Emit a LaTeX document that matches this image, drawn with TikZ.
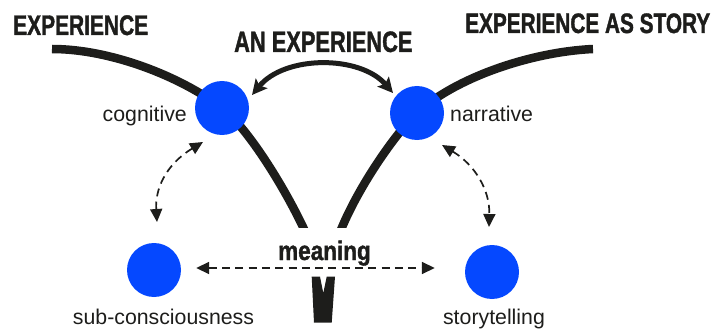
\documentclass[tikz,border=0pt]{standalone}
\usepackage{fontspec}
\setmainfont{Liberation Sans}
\newfontfamily\condA{Liberation Sans}[FakeStretch=0.74,FakeBold=1.3]
\newfontfamily\condB{Liberation Sans}[FakeStretch=0.84,FakeBold=1.3]
\usetikzlibrary{arrows.meta,calc}
\definecolor{ink}{RGB}{29,29,27}
\definecolor{dotblue}{RGB}{5,72,255}
\begin{document}
\begin{tikzpicture}[x=1pt,y=1pt,
  dot/.style={circle,fill=dotblue,minimum size=54pt,inner sep=0pt},
  lbl/.style={text=ink,font=\fontsize{21.3}{22}\selectfont,inner sep=0pt},
  ttl/.style={text=ink,inner sep=0pt},
  thickline/.style={draw=ink,line width=8.5pt},
  dasharrow/.style={draw=ink,line width=1.7pt,dash pattern=on 8pt off 5.3pt,
     {Triangle[length=13pt,width=12pt]}-{Triangle[length=13pt,width=12pt]}},
  solidarrow/.style={draw=ink,line width=5pt,
     {Stealth[length=15pt,width=15pt,inset=3pt]}-{Stealth[length=15pt,width=15pt,inset=3pt]}}
]
\useasboundingbox (0,0) rectangle (713,-329);

\coordinate (cogc) at (222,-108);
\coordinate (narc) at (417,-113);

% thick curves
\begin{scope}
\clip (0,0) rectangle (713,-227);
\draw[thickline] (52,-49) .. controls (110,-49) and (180,-76) .. (cogc)
  .. controls (247,-127) and (287,-190) .. (309,-240);
\draw[thickline] (593,-49) .. controls (530,-52) and (455,-78) .. (narc)
  .. controls (397,-131.5) and (355,-190) .. (337,-240);
\end{scope}

% stem
\fill[ink] (311.7,-276.7) -- (320,-276.7) -- (323.3,-293) -- (326.7,-276.7) -- (335,-276.7)
  -- (331.7,-322.7) -- (314,-322.7) -- cycle;

% circles
\node[dot] (cog) at (cogc) {};
\node[dot] (nar) at (narc) {};
\node[dot] (sub) at (154,-270) {};
\node[dot] (sto) at (492,-272) {};

% titles
\node[ttl,anchor=base west,font=\condA\bfseries\fontsize{28.3}{29}\selectfont] (t1) at (13,-35) {EXPERIENCE};
\node[ttl,anchor=base west,font=\condA\bfseries\fontsize{29.5}{30}\selectfont] (t2) at (234,-52) {AN EXPERIENCE};
\node[ttl,anchor=base west,font=\condA\bfseries\fontsize{28.1}{29}\selectfont] (t3) at (465,-33) {EXPERIENCE AS STORY};
\node[ttl,anchor=base west,font=\condB\bfseries\fontsize{26.8}{27}\selectfont] (mean) at (278,-260) {meaning};

% labels
\node[lbl,anchor=base east] (lcog) at (187,-121.7) {cognitive};
\node[lbl,anchor=base west] (lnar) at (450,-121.7) {narrative};
\node[lbl,anchor=base] (lsub) at (163.5,-324) {sub-consciousness};
\node[lbl,anchor=base] (lsto) at (494,-324) {storytelling};

% arrows
\draw[solidarrow] ($(cog)+(30,13)$) .. controls ($(cog)+(63,53)$) and ($(nar)+(-57,58)$) .. ($(nar)+(-24,20)$);
\draw[dasharrow] ($(cog)+(-19,-34)$) .. controls ($(cog)+(-57,-57)$) and ($(sub)+(1,80)$) .. ($(sub)+(3,48)$);
\draw[dasharrow] ($(nar)+(25,-32)$) .. controls ($(nar)+(58,-52)$) and ($(sto)+(-2,82)$) .. ($(sto)+(-3,45)$);
\draw[dasharrow] ($(sub.east)+(15,2)$) -- ($(sto.west)+(-30,4)$);
\end{tikzpicture}
\end{document}
